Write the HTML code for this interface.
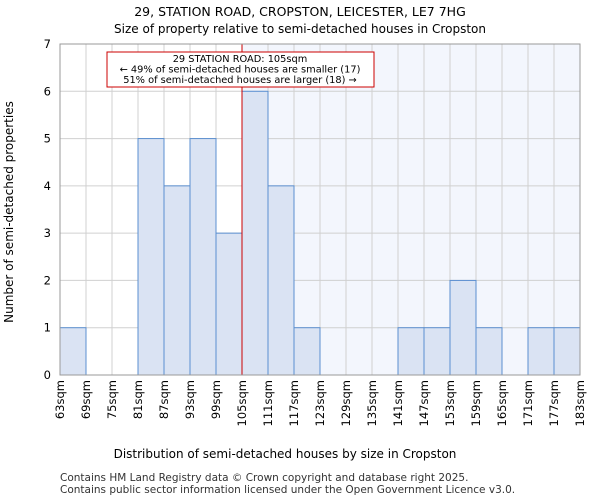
<!DOCTYPE html>
<html><head><meta charset="utf-8"><style>
body{margin:0;background:#fff;font-family:"DejaVu Sans","Liberation Sans",sans-serif}
</style></head><body>
<svg id="c" width="600" height="500" xmlns="http://www.w3.org/2000/svg" font-family="DejaVu Sans, Liberation Sans, sans-serif">
<text x="300" y="16" text-anchor="middle" font-size="12.5">29, STATION ROAD, CROPSTON, LEICESTER, LE7 7HG</text>
<text x="300" y="33" text-anchor="middle" font-size="12">Size of property relative to semi-detached houses in Cropston</text>
<g id="g"></g>
<text x="285" y="458" text-anchor="middle" font-size="12">Distribution of semi-detached houses by size in Cropston</text>
<text transform="translate(13,212) rotate(-90)" text-anchor="middle" font-size="12">Number of semi-detached properties</text>
<text x="60" y="481" font-size="10.5" fill="#333">Contains HM Land Registry data © Crown copyright and database right 2025.</text>
<text x="60" y="493" font-size="10.5" fill="#333">Contains public sector information licensed under the Open Government Licence v3.0.</text>
</svg>
<script>
const binStarts=[63,69,75,81,87,93,99,105,111,117,123,129,135,141,147,153,159,165,171,177];
const counts=[1,0,0,5,4,5,3,6,4,1,0,0,0,1,1,2,1,0,1,1];
const tickLabels=["63sqm","69sqm","75sqm","81sqm","87sqm","93sqm","99sqm","105sqm","111sqm","117sqm","123sqm","129sqm","135sqm","141sqm","147sqm","153sqm","159sqm","165sqm","171sqm","177sqm","183sqm"];
const yTicks=[0,1,2,3,4,5,6,7];
const subject=105;
const NS="http://www.w3.org/2000/svg";
const g=document.getElementById('g');
const X0=60,X1=580,Y0=375,Y1=44,xmin=63,xmax=183,ymax=7;
const x=v=>X0+(v-xmin)/(xmax-xmin)*(X1-X0);
const y=v=>Y0-v/ymax*(Y0-Y1);
function mk(t,a){const e=document.createElementNS(NS,t);for(const k in a)e.setAttribute(k,a[k]);g.appendChild(e);return e;}
let e=mk('rect',{x:x(subject),y:Y1,width:X1-x(subject),height:Y0-Y1,fill:'#f3f6fd'});


tickLabels.forEach((l,i)=>{const xv=x(xmin+i*6);
 const ln=mk('line',{x1:xv,x2:xv,y1:Y1,y2:Y0,stroke:'#d0d0d0'});
 
 
 const t=mk('text',{transform:`translate(${xv+4},380) rotate(-90)`,'text-anchor':'end','font-size':'11.5'});t.textContent=l;
 
 
});
yTicks.forEach(v=>{
 const ln=mk('line',{x1:X0,x2:X1,y1:y(v),y2:y(v),stroke:'#d0d0d0'});
 
 
 const t=mk('text',{x:X0-9,y:y(v)+4,'text-anchor':'end','font-size':'11.5'});t.textContent=v;
 
 
});
counts.forEach((c,i)=>{if(!c)return;
 const r=mk('rect',{x:x(binStarts[i]),y:y(c),width:x(binStarts[i]+6)-x(binStarts[i]),height:Y0-y(c),fill:'#dae3f3',stroke:'#5b8fd0','stroke-width':1});
 
 
});
e=mk('line',{x1:x(subject),x2:x(subject),y1:Y1,y2:Y0,stroke:'#cc0000','stroke-width':1});


e=mk('rect',{x:X0,y:Y1,width:X1-X0,height:Y0-Y1,fill:'none',stroke:'#999'});


e=mk('rect',{x:107,y:52,width:267,height:35,fill:'#fff',stroke:'#cc0000'});


["29 STATION ROAD: 105sqm","← 49% of semi-detached houses are smaller (17)","51% of semi-detached houses are larger (18) →"].forEach((s,i)=>{
 const t=mk('text',{x:240,y:62+i*10.5,'text-anchor':'middle','font-size':'9.8'});t.textContent=s;
 
 
});
</script>
</body></html>
